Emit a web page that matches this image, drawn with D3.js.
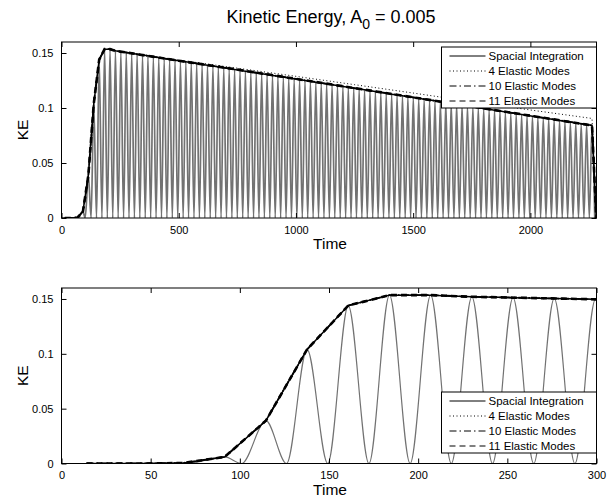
<!DOCTYPE html>
<html><head><meta charset="utf-8">
<script src="https://cdn.jsdelivr.net/npm/d3@7"></script>
<style>body{margin:0;background:#fff}svg{display:block}text{font-family:"Liberation Sans",Arial,sans-serif}</style>
</head><body><svg id="c" width="607" height="501"></svg>
<script>
// ---- data ----
// times of the oscillation peaks of the gray trace (and the points where the envelope is sampled)
const peakTime = [91.5,114.6,137.7,160.8,183.9,207.0,230.1,253.2,276.3,299.4,322.5,345.6,368.7,391.8,414.9,438.0,461.1,484.2,507.3,530.4,553.5,576.6,599.7,622.8,645.9,669.0,692.1,715.2,738.3,761.4,784.5,807.6,830.7,853.8,876.9,900.0,923.1,946.2,969.3,992.4,1015.5,1038.6,1061.7,1084.8,1107.9,1131.0,1154.1,1177.2,1200.3,1223.4,1246.5,1269.6,1292.7,1315.8,1338.9,1362.0,1385.1,1408.2,1431.3,1454.4,1477.5,1500.6,1523.7,1546.8,1569.9,1593.0,1616.1,1639.2,1662.3,1685.4,1708.5,1731.6,1754.7,1777.8,1800.9,1824.0,1847.1,1870.2,1893.3,1916.4,1939.5,1962.6,1985.7,2008.8,2031.9,2055.0,2078.1,2101.2,2124.3,2147.4,2170.5,2193.6,2216.7,2239.8,2262.9];
const peakKE = [0.006,0.039,0.104,0.144,0.1535,0.1535,0.1520,0.1512,0.1505,0.1497,0.1489,0.1481,0.1474,0.1466,0.1458,0.1450,0.1443,0.1435,0.1427,0.1420,0.1412,0.1404,0.1396,0.1389,0.1381,0.1373,0.1366,0.1358,0.1350,0.1342,0.1335,0.1327,0.1319,0.1312,0.1304,0.1296,0.1288,0.1281,0.1273,0.1265,0.1258,0.1250,0.1242,0.1234,0.1227,0.1219,0.1211,0.1204,0.1196,0.1188,0.1180,0.1173,0.1165,0.1157,0.1150,0.1142,0.1134,0.1126,0.1119,0.1111,0.1103,0.1096,0.1088,0.1080,0.1072,0.1065,0.1057,0.1049,0.1042,0.1034,0.1026,0.1018,0.1011,0.1003,0.0995,0.0988,0.0980,0.0972,0.0964,0.0957,0.0949,0.0941,0.0934,0.0926,0.0918,0.0910,0.0903,0.0895,0.0887,0.0880,0.0872,0.0864,0.0856,0.0849,0.0841];
// times of the zero minima of the gray trace
const troughTime = [0,70.0,101.0,126.2,149.3,172.4,195.5,218.6,241.7,264.8,287.9,311.0,334.1,357.2,380.3,403.4,426.5,449.6,472.7,495.8,518.9,542.0,565.1,588.2,611.3,634.4,657.5,680.6,703.7,726.8,749.9,773.0,796.1,819.2,842.3,865.4,888.5,911.6,934.7,957.8,980.9,1004.0,1027.1,1050.2,1073.3,1096.4,1119.5,1142.6,1165.7,1188.8,1211.9,1235.0,1258.1,1281.2,1304.3,1327.4,1350.5,1373.6,1396.7,1419.8,1442.9,1466.0,1489.1,1512.2,1535.3,1558.4,1581.5,1604.6,1627.7,1650.8,1673.9,1697.0,1720.1,1743.2,1766.3,1789.4,1812.5,1835.6,1858.7,1881.8,1904.9,1928.0,1951.1,1974.2,1997.3,2020.4,2043.5,2066.6,2089.7,2112.8,2135.9,2159.0,2182.1,2205.2,2228.3,2251.4,2274.5];
// lead-in and end of the envelope curves
const envStartTime = [14, 45, 68.4];
const envStartKE = [0, 0, 0.0005];
const envEndTime = [2281];
const envEndKE = [0];
// modal solutions (sparse samples)
const modeTime = [14,45,68.4,91.5,114.6,137.7,160.8,183.9,207.0,230.1,500,750,1000,1250,1500,1750,2000,2262.9,2281];
const modes4KE  = [0,0,0.0005,0.006,0.039,0.104,0.144,0.1535,0.1535,0.1521,0.1436,0.1362,0.1288,0.1212,0.1136,0.1058,0.0982,0.0905,0];
const modes10KE = [0,0,0.0005,0.006,0.039,0.104,0.144,0.1535,0.1535,0.1520,0.1430,0.1349,0.1265,0.1181,0.1097,0.1014,0.0930,0.0841,0];
const modes11KE = [0,0,0.0005,0.006,0.039,0.104,0.144,0.1535,0.1535,0.1520,0.1430,0.1349,0.1265,0.1181,0.1097,0.1014,0.0930,0.0841,0];
const legendLabels = ["Spacial Integration","4 Elastic Modes","10 Elastic Modes","11 Elastic Modes"];
const yTicks = [0,0.05,0.1,0.15];
const xTicksTop = [0,500,1000,1500,2000];
const xTicksBottom = [0,50,100,150,200,250,300];

// ---- drawing ----
const svg = d3.select("#c");
const L = 61.5, R = 596.5;
const styles = [
  {dash:null, w:1.5},
  {dash:"1,2.5", w:1},
  {dash:"7,3,1.5,3", w:1.8},
  {dash:"6,4", w:2.6}
];

const gray = peakTime.map((t,i)=>({t,v:peakKE[i]}))
  .concat(troughTime.map(t=>({t,v:0})))
  .sort((a,b)=>a.t-b.t);
const env = envStartTime.map((t,i)=>({t,v:envStartKE[i]}))
  .concat(peakTime.map((t,i)=>({t,v:peakKE[i]})))
  .concat(envEndTime.map((t,i)=>({t,v:envEndKE[i]})));
const m4 = modeTime.map((t,i)=>({t,v:modes4KE[i]}));
const m10 = modeTime.map((t,i)=>({t,v:modes10KE[i]}));
const m11 = modeTime.map((t,i)=>({t,v:modes11KE[i]}));

const panels = [
  {top:42, bottom:218, xmax:2282, ticks:xTicksTop, legendTop:47, grayW:1.7},
  {top:288, bottom:463.5, xmax:300, ticks:xTicksBottom, legendTop:392, grayW:1.2}
];

svg.append("text").attr("x",331).attr("y",23).attr("text-anchor","middle")
  .attr("font-size",18)
  .call(t=>{
    t.append("tspan").text("Kinetic Energy, A");
    t.append("tspan").attr("dy",6).attr("font-size",14).text("0");
    t.append("tspan").attr("dy",-6).text(" = 0.005");
  });

panels.forEach((p,pi)=>{
  const x = d3.scaleLinear().domain([0,p.xmax]).range([L,R]);
  const y = d3.scaleLinear().domain([0,0.16]).range([p.bottom,p.top]);
  const g = svg.append("g");
  const cid = "clip"+pi;
  svg.append("clipPath").attr("id",cid).append("rect")
    .attr("x",L).attr("y",p.top).attr("width",R-L).attr("height",p.bottom-p.top);
  const line = d3.line().x(d=>x(d.t)).y(d=>y(d.v));
  const plot = g.append("g").attr("clip-path",`url(#${cid})`);
  plot.append("path").datum(gray)
    .attr("d", d3.line().x(d=>x(d.t)).y(d=>y(d.v)).curve(d3.curveMonotoneX))
    .attr("fill","none").attr("stroke","#727272").attr("stroke-width",p.grayW);
  [env,m4,m10,m11].forEach((ds,k)=>{
    plot.append("path").datum(ds).attr("d",line).attr("fill","none")
      .attr("stroke","#000").attr("stroke-width",styles[k].w)
      .attr("stroke-dasharray",styles[k].dash);
  });
  // axes (MATLAB style, inward ticks, box)
  const fmt = d=>String(d);
  const ax = [
    g.append("g").attr("transform",`translate(0,${p.bottom})`).call(d3.axisBottom(x).tickValues(p.ticks).tickSize(-5).tickPadding(8).tickFormat(fmt)),
    g.append("g").attr("transform",`translate(0,${p.top})`).call(d3.axisTop(x).tickValues(p.ticks).tickSize(-5).tickFormat("")),
    g.append("g").attr("transform",`translate(${L},0)`).call(d3.axisLeft(y).tickValues(yTicks).tickSize(-5).tickPadding(8).tickFormat(fmt)),
    g.append("g").attr("transform",`translate(${R},0)`).call(d3.axisRight(y).tickValues(yTicks).tickSize(-5).tickFormat(""))
  ];
  ax.forEach(a=>{
    a.select(".domain").remove();
    a.selectAll("line").attr("stroke","#000");
    a.selectAll("text").attr("font-size",11).attr("fill","#000").attr("font-family","Liberation Sans, Arial, sans-serif");
  });
  g.append("rect").attr("x",L).attr("y",p.top).attr("width",R-L).attr("height",p.bottom-p.top)
    .attr("fill","none").attr("stroke","#000").attr("stroke-width",1);
  // labels
  g.append("text").attr("x",330).attr("y",p.bottom+31).attr("text-anchor","middle").attr("font-size",15.5).text("Time");
  g.append("text").attr("transform",`translate(28,${(p.top+p.bottom)/2}) rotate(-90)`).attr("text-anchor","middle").attr("font-size",15.5).text("KE");
  // legend
  const lg = g.append("g");
  const bx = 441.5, bw = 155, bh = 61;
  lg.append("rect").attr("x",bx).attr("y",p.legendTop).attr("width",bw).attr("height",bh)
    .attr("fill","#fff").attr("stroke","#000").attr("stroke-width",1);
  legendLabels.forEach((lab,k)=>{
    const yy = p.legendTop + 9 + 15*k;
    lg.append("line").attr("x1",bx+8).attr("x2",bx+44).attr("y1",yy).attr("y2",yy)
      .attr("stroke","#000").attr("stroke-width",1).attr("stroke-dasharray",styles[k].dash);
    lg.append("text").attr("x",bx+47).attr("y",yy+4).attr("font-size",11.5).text(lab);
  });
});
</script></body></html>
